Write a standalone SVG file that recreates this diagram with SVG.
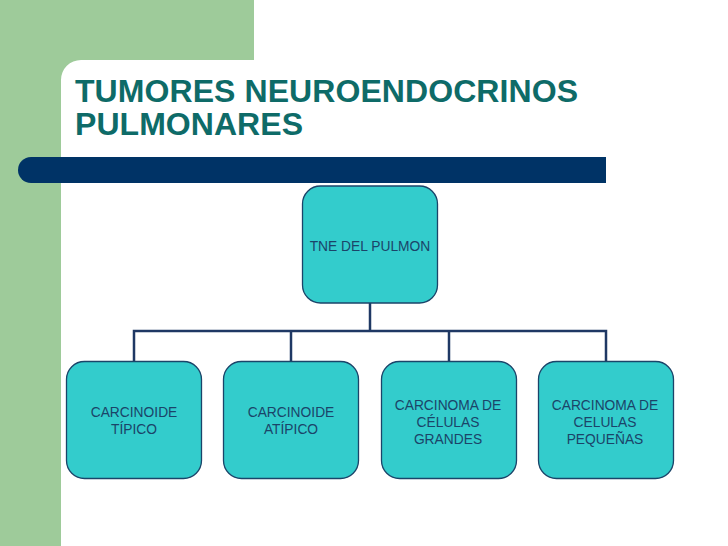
<svg xmlns="http://www.w3.org/2000/svg" width="728" height="546" viewBox="0 0 728 546">
  <style>
    .node rect { fill: #33CCCC; stroke: #1B4469; stroke-width: 1.3; }
    .node text { font-family: "Liberation Sans", Arial, sans-serif; font-size: 13.8px; fill: #1B4469; text-anchor: middle; }
    .title { font-family: "Liberation Sans", Arial, sans-serif; font-weight: bold; font-size: 32px; fill: #0E6B68; }
    #connectors path { fill: none; stroke: #1F3864; stroke-width: 2.5; }
  </style>
  <rect x="0" y="0" width="728" height="546" fill="#FFFFFF"/>
  <!-- background shapes -->
  <rect x="0" y="0" width="254" height="80" fill="#9ECB9A"/>
  <rect x="0" y="0" width="61" height="546" fill="#9ECB9A"/>
  <path d="M61,546 V80 A20,20 0 0 1 81,60 H254 V80 H728 V546 Z" fill="#FFFFFF"/>
  <!-- title -->
  <text class="title" x="75" y="102" textLength="503" lengthAdjust="spacing">TUMORES NEUROENDOCRINOS</text>
  <text class="title" x="75" y="135" textLength="228" lengthAdjust="spacing">PULMONARES</text>
  <!-- bar -->
  <path d="M31,157 H606 V183 H31 A13,13 0 0 1 31,157 Z" fill="#003366"/>
  <!-- connectors -->
  <g id="connectors">
    <path d="M370,303 V331"/>
    <path d="M134,361 V331 H606 V361"/>
    <path d="M291,331 V361"/>
    <path d="M449,331 V361"/>
  </g>
  <!-- nodes -->
  <g id="node-tne" class="node">
    <rect x="302.5" y="186" width="135" height="117" rx="18"/>
    <text x="370" y="251">TNE DEL PULMON</text>
  </g>
  <g id="node-ct" class="node">
    <rect x="66.5" y="361.5" width="135" height="117" rx="18"/>
    <text x="134" y="417">CARCINOIDE</text>
    <text x="134" y="434">TÍPICO</text>
  </g>
  <g id="node-ca" class="node">
    <rect x="223.5" y="361.5" width="135" height="117" rx="18"/>
    <text x="291" y="417">CARCINOIDE</text>
    <text x="291" y="434">ATÍPICO</text>
  </g>
  <g id="node-ccg" class="node">
    <rect x="381.5" y="361.5" width="135" height="117" rx="18"/>
    <text x="448" y="409.5">CARCINOMA DE</text>
    <text x="448" y="426.5">CÉLULAS</text>
    <text x="448" y="443.5">GRANDES</text>
  </g>
  <g id="node-ccp" class="node">
    <rect x="538.5" y="361.5" width="135" height="117" rx="18"/>
    <text x="605" y="409.5">CARCINOMA DE</text>
    <text x="605" y="426.5">CELULAS</text>
    <text x="605" y="443.5">PEQUEÑAS</text>
  </g>
</svg>
